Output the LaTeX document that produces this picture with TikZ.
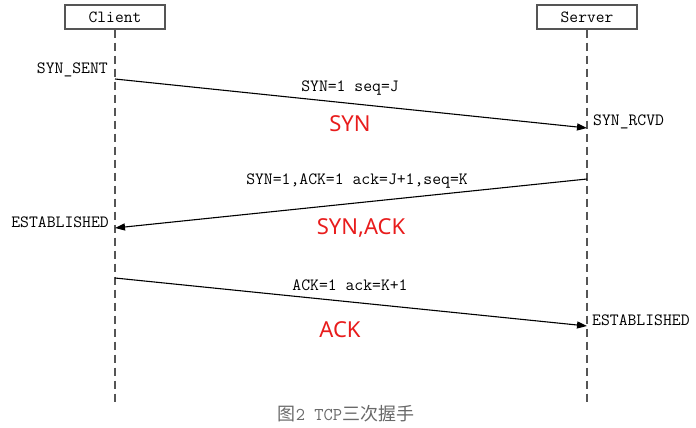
\documentclass[tikz,border=0pt]{standalone}
\usepackage{fontspec}
\usepackage{tikz}
\usetikzlibrary{arrows.meta}
\setmainfont{Liberation Serif}
\newfontfamily\redfont{Noto Sans}
\newfontfamily\cjkfont{Noto Sans CJK SC}
\definecolor{linegray}{RGB}{85,85,85}
\definecolor{capgray}{RGB}{105,105,105}
\definecolor{synred}{RGB}{232,28,28}

\begin{document}
\begin{tikzpicture}[x=1pt, y=-1pt,
  host/.style={draw=linegray, line width=1.2pt, minimum width=100pt, minimum height=24pt, inner sep=0pt, font=\fontsize{17}{18}\ttfamily},
  life/.style={draw=linegray, line width=1.5pt, dash pattern=on 8pt off 5pt},
  msg/.style={draw=black, line width=1.1pt, -{Triangle[length=10pt,width=7pt]}},
  lbl/.style={font=\fontsize{17.2}{18}\ttfamily, inner sep=0pt},
  tag/.style={font=\fontsize{22}{24}\redfont, text=synred, inner sep=0pt}]
  \useasboundingbox (0,0) rectangle (696,428);
  \node[host] (client) at (115,17) {Client};
  \node[host] (server) at (587,17) {Server};
  \coordinate (clientend) at (115,405);
  \coordinate (serverend) at (587,405);
  \draw[life] (client.south) -- (clientend);
  \draw[life] (server.south) -- (serverend);
  \coordinate (c1) at (115,79);
  \coordinate (s1) at (587,128);
  \coordinate (s2) at (587,179);
  \coordinate (c2) at (115,228);
  \coordinate (c3) at (115,278);
  \coordinate (s3) at (587,326);
  \draw[msg] (c1) -- (s1);
  \draw[msg] (s2) -- (c2);
  \draw[msg] (c3) -- (s3);
  \node[lbl, anchor=east] (synsent) at (108,70) {SYN\_SENT};
  \node[lbl, anchor=west] (synrcvd) at (593,122) {SYN\_RCVD};
  \node[lbl, anchor=east] (estc) at (109,222) {ESTABLISHED};
  \node[lbl, anchor=west] (ests) at (592,320) {ESTABLISHED};
  \node[lbl] (m1) at (350,88) {SYN=1 seq=J};
  \node[lbl] (m2) at (357,181) {SYN=1,ACK=1 ack=J+1,seq=K};
  \node[lbl] (m3) at (350,285) {ACK=1 ack=K+1};
  \node[tag] (t1) at (350,124) {SYN};
  \node[tag] (t2) at (361,228) {SYN,ACK};
  \node[tag] (t3) at (340,330) {ACK};
  \node[text=capgray, inner sep=0pt] (caption) at (346,414)
    {\fontsize{18}{20}\cjkfont 图\fontsize{18}{20}\ttfamily 2 TCP\fontsize{18}{20}\cjkfont 三次握手};
\end{tikzpicture}
\end{document}
